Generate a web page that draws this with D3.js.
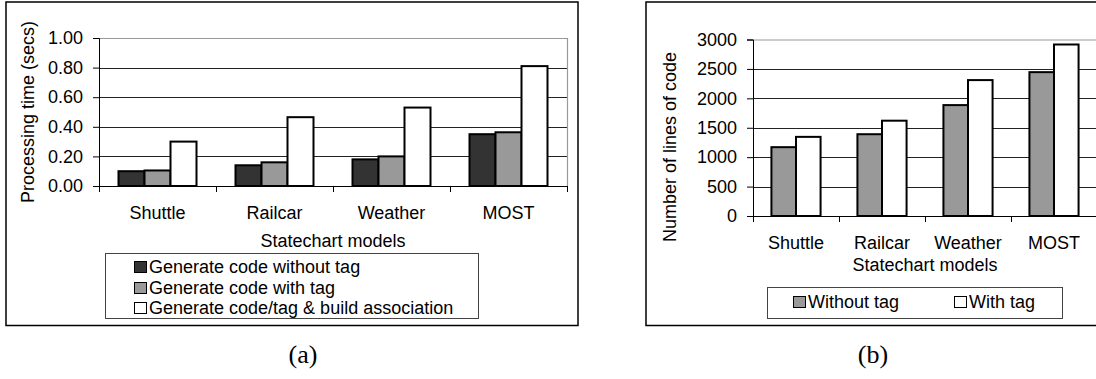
<!DOCTYPE html>
<html>
<head>
<meta charset="utf-8">
<script src="https://cdn.jsdelivr.net/npm/d3@7"></script>
<style>
  body { margin: 0; background: #fff; }
  svg text { font-family: "Liberation Sans", Arial, sans-serif; font-size: 18px; fill: #000; }
  .caption { font-family: "Liberation Serif", "DejaVu Serif", serif !important; font-size: 26px !important; }
</style>
</head>
<body>
<div id="chart-area"></div>
<script>

// (a) processing time
let modelsA = ["Shuttle", "Railcar", "Weather", "MOST"];
let seriesA = ["Generate code without tag", "Generate code with tag", "Generate code/tag & build association"];
let noTagTime = [0.10, 0.14, 0.18, 0.35];
let withTagTime = [0.105, 0.16, 0.20, 0.363];
let assocTime = [0.30, 0.465, 0.53, 0.81];
let ticksA = [0, 0.2, 0.4, 0.6, 0.8, 1.0];

// (b) lines of code
let modelsB = ["Shuttle", "Railcar", "Weather", "MOST"];
let seriesB = ["Without tag", "With tag"];
let noTagLines = [1170, 1390, 1885, 2445];
let withTagLines = [1345, 1620, 2310, 2915];
let ticksB = [0, 500, 1000, 1500, 2000, 2500, 3000];

let svg = d3.select("#chart-area").append("svg")
    .attr("width", 1096)
    .attr("height", 379);

function drawPanel(opt) {
    let g = svg.append("g");

    // outer frame
    g.append("rect")
        .attr("x", opt.frame[0]).attr("y", opt.frame[1])
        .attr("width", opt.frame[2]).attr("height", opt.frame[3])
        .attr("fill", "none").attr("stroke", "#000").attr("stroke-width", 1.5);

    let y = d3.scaleLinear().domain(opt.yDomain).range([opt.bottom, opt.top]);
    let x = d3.scaleBand().domain(opt.cats).range([opt.left, opt.right])
        .paddingInner(opt.pad).paddingOuter(opt.pad / 2);
    let xs = d3.scaleBand().domain(d3.range(opt.series.length)).range([0, x.bandwidth()]);

    // gridlines
    g.selectAll(".grid").data(opt.ticks.slice(1, -1)).enter().append("line")
        .attr("x1", opt.left).attr("x2", opt.right)
        .attr("y1", d => Math.round(y(d)) + 0.5).attr("y2", d => Math.round(y(d)) + 0.5)
        .attr("stroke", "#222").attr("stroke-width", 1);

    // plot border (top + right grey)
    g.append("path")
        .attr("d", "M" + opt.left + "," + (opt.top + 0.5) + "H" + (opt.right + 0.5) + "V" + opt.bottom)
        .attr("fill", "none").attr("stroke", "#999").attr("stroke-width", 1.2);

    // bars
    let rows = opt.cats.map((c, i) => ({cat: c, vals: opt.values.map(v => v[i])}));
    let grp = g.selectAll(".grp").data(rows).enter().append("g")
        .attr("transform", d => "translate(" + x(d.cat) + ",0)");
    grp.selectAll("rect").data(d => d.vals).enter().append("rect")
        .attr("x", (d, i) => xs(i))
        .attr("y", d => y(d))
        .attr("width", xs.bandwidth())
        .attr("height", d => opt.bottom - y(d))
        .attr("fill", (d, i) => opt.colors[i])
        .attr("stroke", "#000").attr("stroke-width", 2);

    // y axis
    let yAxis = d3.axisLeft(y).tickValues(opt.ticks).tickSize(6).tickPadding(10)
        .tickFormat(opt.fmt);
    let yg = g.append("g").attr("transform", "translate(" + opt.left + ",0)").call(yAxis);
    yg.selectAll("text").style("font-size", "18px").style("font-family", "Liberation Sans, Arial, sans-serif");
    yg.selectAll("line, path").attr("stroke", "#000");

    // x axis
    let xAxis = d3.axisBottom(x).tickSize(0).tickPadding(20);
    let xg = g.append("g").attr("transform", "translate(0," + opt.bottom + ")").call(xAxis);
    xg.select(".domain").remove();
    xg.selectAll("text").style("font-size", "18px").style("font-family", "Liberation Sans, Arial, sans-serif");
    g.append("line")
        .attr("x1", opt.left).attr("x2", opt.right)
        .attr("y1", opt.bottom + 0.5).attr("y2", opt.bottom + 0.5)
        .attr("stroke", "#000");
    g.selectAll(".xtick").data(d3.range(opt.cats.length + 1)).enter().append("line")
        .attr("x1", i => Math.round(opt.left + i * x.step()) + 0.5)
        .attr("x2", i => Math.round(opt.left + i * x.step()) + 0.5)
        .attr("y1", opt.bottom).attr("y2", opt.bottom + 6)
        .attr("stroke", "#000");

    // axis titles
    g.append("text")
        .attr("x", (opt.left + opt.right) / 2).attr("y", opt.xTitleY)
        .attr("text-anchor", "middle")
        .text("Statechart models");
    g.append("text")
        .attr("transform", "translate(" + opt.yTitle[0] + "," + opt.yTitle[1] + ") rotate(-90)")
        .attr("text-anchor", "middle")
        .attr("dominant-baseline", "central")
        .text(opt.yLabel);

    // legend
    let lg = opt.legend;
    g.append("rect")
        .attr("x", lg.box[0] + 0.5).attr("y", lg.box[1] + 0.5)
        .attr("width", lg.box[2]).attr("height", lg.box[3])
        .attr("fill", "#fff").attr("stroke", "#444").attr("stroke-width", 1);
    let items = g.selectAll(".legend").data(opt.series).enter().append("g")
        .attr("transform", (d, i) => "translate(" + lg.pos[i][0] + "," + lg.pos[i][1] + ")");
    items.append("rect")
        .attr("x", 0.5).attr("y", -5.5)
        .attr("width", 12).attr("height", 11)
        .attr("fill", (d, i) => opt.colors[i])
        .attr("stroke", "#000").attr("stroke-width", 1);
    items.append("text")
        .attr("x", 15).attr("y", 0)
        .attr("dominant-baseline", "central")
        .text(d => d);

    // caption
    g.append("text")
        .attr("class", "caption")
        .attr("x", opt.caption[0]).attr("y", opt.caption[1])
        .attr("text-anchor", "middle")
        .attr("dominant-baseline", "central")
        .text(opt.captionText);
}

drawPanel({
    frame: [6, 2, 572, 323.5],
    left: 99, right: 567, top: 38, bottom: 186,
    yDomain: [0, 1], ticks: ticksA, fmt: d3.format(".2f"),
    cats: modelsA, series: seriesA, pad: 1 / 3,
    values: [noTagTime, withTagTime, assocTime],
    colors: ["#333333", "#999999", "#ffffff"],
    xTitleY: 247, yTitle: [28, 112], yLabel: "Processing time (secs)",
    legend: {box: [105, 253, 373, 65], pos: [[134, 267], [134, 288], [134, 308]]},
    caption: [303, 354], captionText: "(a)"
});

drawPanel({
    frame: [646, 2, 470, 323.5],
    left: 753, right: 1097, top: 39.5, bottom: 216,
    yDomain: [0, 3000], ticks: ticksB, fmt: d3.format("d"),
    cats: modelsB, series: seriesB, pad: 1.5 / 3.5,
    values: [noTagLines, withTagLines],
    colors: ["#999999", "#ffffff"],
    xTitleY: 271, yTitle: [670, 147], yLabel: "Number of lines of code",
    legend: {box: [767, 287, 295, 31], pos: [[793, 302], [954, 302]]},
    caption: [873, 354], captionText: "(b)"
});

</script>
</body>
</html>
